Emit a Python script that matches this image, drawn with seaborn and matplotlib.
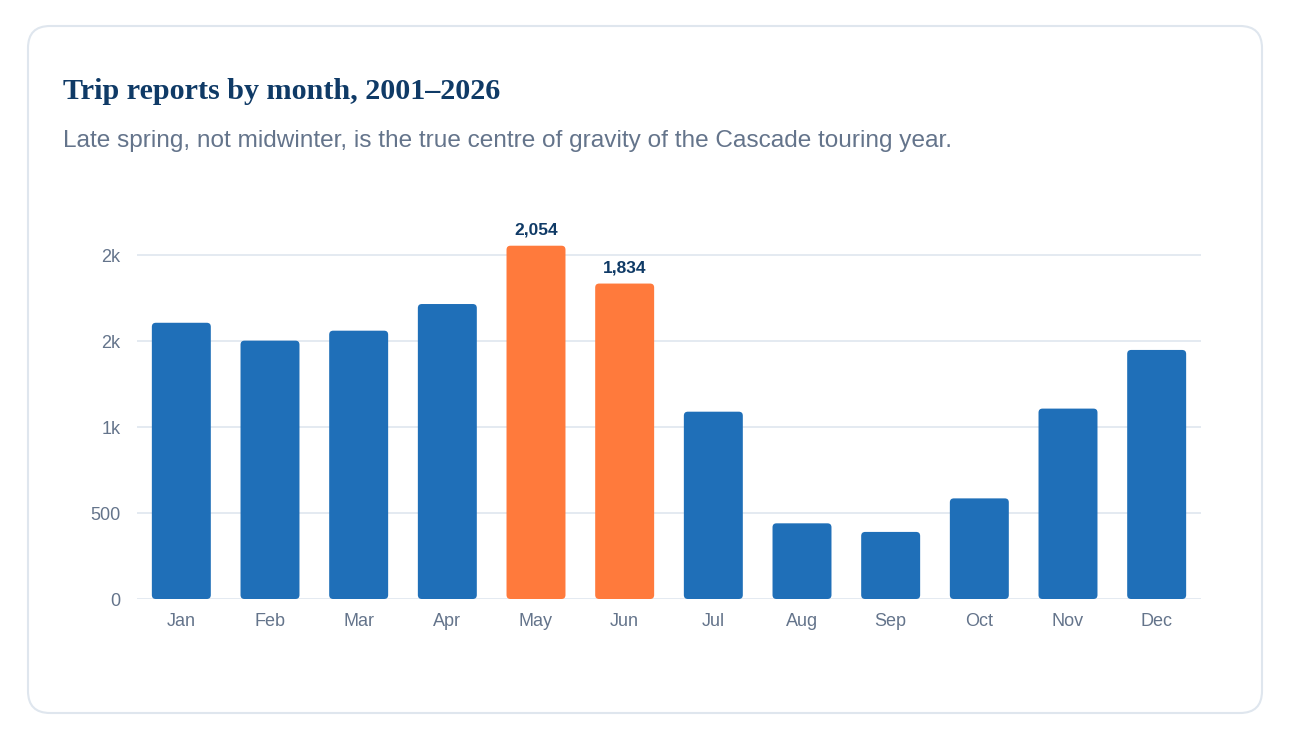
import matplotlib
matplotlib.use("Agg")
import matplotlib.pyplot as plt
from matplotlib.patches import FancyBboxPatch
import seaborn as sns
import pandas as pd

# data
months = ["Jan", "Feb", "Mar", "Apr", "May", "Jun",
          "Jul", "Aug", "Sep", "Oct", "Nov", "Dec"]
reports = [1606, 1502, 1560, 1715, 2054, 1834,
           1089, 440, 390, 585, 1107, 1448]
highlight = ["May", "Jun"]
y_ticks = [0, 500, 1000, 1500, 2000]
y_tick_labels = ["0", "500", "1k", "2k", "2k"]

title = "Trip reports by month, 2001\u20132026"
subtitle = "Late spring, not midwinter, is the true centre of gravity of the Cascade touring year."

BLUE = "#1f6fb8"
ORANGE = "#ff7a3c"
NAVY = "#0f3a66"
SLATE = "#64748b"
GRID = "#e2e8f0"

W, H, DPI = 1290, 743, 100

sns.set_theme(style="white")
plt.rcParams['font.family'] = ['Liberation Sans', 'DejaVu Sans']

df = pd.DataFrame({"month": months, "reports": reports})
df["group"] = ["hi" if m in highlight else "base" for m in months]

fig = plt.figure(figsize=(W / DPI, H / DPI), dpi=DPI)
fig.patch.set_facecolor("white")

# card background, drawn in pixel units
bg = fig.add_axes([0, 0, 1, 1], zorder=-1)
bg.set_xlim(0, W)
bg.set_ylim(H, 0)
bg.axis("off")
card = FancyBboxPatch((28, 26), 1234, 687,
                      boxstyle="round,pad=0,rounding_size=22",
                      facecolor="white", edgecolor="#dfe6ee", linewidth=1.5)
bg.add_patch(card)
bg.text(63, 99, title, fontsize=21.7, fontweight="bold", color=NAVY,
        family=["Liberation Serif", "DejaVu Serif"], va="baseline", ha="left")
bg.text(63, 147, subtitle, fontsize=17.6, color=SLATE, va="baseline", ha="left")

# plot area: x 137..1201 px, zero line at y=599 px
px_per_unit = 86 / 500
top_px = 230
ax = fig.add_axes([137 / W, 1 - 599 / H, (1201 - 137) / W, (599 - top_px) / H])
ax.patch.set_alpha(0)

sns.barplot(data=df, x="month", y="reports", hue="group",
            palette={"base": BLUE, "hi": ORANGE}, order=months,
            dodge=False, width=0.665, saturation=1, legend=False, ax=ax, zorder=3)

ax.set_xlim(-0.5, len(months) - 0.5)
ax.set_ylim(0, (599 - top_px) / px_per_unit)

# rounded bar corners
x_unit_px = (1201 - 137) / len(months)
aspect = (1 / px_per_unit) / (1 / x_unit_px)
r = 4 / x_unit_px
for p in list(ax.patches):
    x0, y0 = p.get_x(), p.get_y()
    w, h = p.get_width(), p.get_height()
    if h <= 0:
        continue
    rb = FancyBboxPatch((x0, y0), w, h,
                        boxstyle=f"round,pad=0,rounding_size={r}",
                        mutation_aspect=aspect,
                        facecolor=p.get_facecolor(), edgecolor="none", zorder=3)
    p.remove()
    ax.add_patch(rb)

# value labels on highlighted months
for i, (m, v) in enumerate(zip(months, reports)):
    if m in highlight:
        ax.annotate(f"{v:,}", (i, v), xytext=(0, 8), textcoords="offset points",
                    ha="center", va="baseline", fontsize=12.5, fontweight="bold",
                    color=NAVY, annotation_clip=False)

ax.set_yticks(y_ticks)
ax.set_yticklabels(y_tick_labels)
ax.yaxis.grid(True, color=GRID, linewidth=1.3, zorder=0)
ax.xaxis.grid(False)
for s in ax.spines.values():
    s.set_visible(False)
ax.tick_params(axis="both", length=0, labelsize=13, labelcolor=SLATE)
ax.tick_params(axis="y", pad=12)
ax.tick_params(axis="x", pad=10)
ax.set_xlabel("")
ax.set_ylabel("")

fig.savefig("out.png", dpi=DPI, facecolor="white")
